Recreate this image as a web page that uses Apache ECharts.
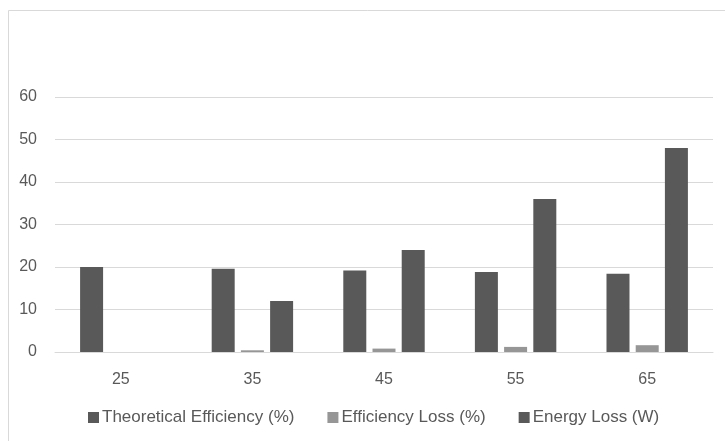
<!DOCTYPE html>
<html>
<head>
<meta charset="utf-8">
<script src="https://cdn.jsdelivr.net/npm/echarts@6/dist/echarts.min.js"></script>
<style>
html,body{margin:0;padding:0;background:#fff;}
#main{width:725px;height:441px;}
</style>
</head>
<body>
<div id="main"></div>
<script>
const categories = ['25', '35', '45', '55', '65'];
const theoreticalEfficiency = [20, 19.6, 19.2, 18.8, 18.4];
const efficiencyLoss = [0, 0.4, 0.8, 1.2, 1.6];
const energyLoss = [0, 12, 24, 36, 48];
const seriesNames = ['Theoretical Efficiency (%)', 'Efficiency Loss (%)', 'Energy Loss (W)'];

const chart = echarts.init(document.getElementById('main'), null, {renderer: 'canvas'});
const font = 'Liberation Sans, Arial, sans-serif';
chart.setOption({
  backgroundColor: '#fff',
  animation: false,
  graphic: [{
    type: 'rect', left: 6, top: 8, silent: true,
    shape: {width: 740, height: 460},
    style: {fill: 'none', stroke: '#d9d9d9', lineWidth: 1}
  }],
  grid: {left: 55, right: 12, top: 97, bottom: 89, containLabel: false},
  legend: {
    left: 83, top: 404,
    itemWidth: 11, itemHeight: 11, itemGap: 33,
    icon: 'rect',
    textStyle: {color: '#595959', fontSize: 17, fontFamily: font, padding: [0,0,0,-2]},
    data: seriesNames
  },
  xAxis: {
    type: 'category',
    data: categories,
    axisLine: {lineStyle: {color: '#d9d9d9', width: 1}},
    axisTick: {show: false},
    axisLabel: {color: '#595959', fontSize: 16, fontFamily: font, margin: 20}
  },
  yAxis: {
    type: 'value', min: 0, max: 60, interval: 10,
    axisLine: {show: false},
    axisTick: {show: false},
    splitLine: {lineStyle: {color: '#d9d9d9', width: 1}},
    axisLabel: {color: '#595959', fontSize: 16, fontFamily: font, margin: 18}
  },
  series: [
    {name: seriesNames[0], type: 'bar', data: theoreticalEfficiency, barWidth: 23, barGap: '27%', itemStyle: {color: '#595959'}},
    {name: seriesNames[1], type: 'bar', data: efficiencyLoss, barWidth: 23, barGap: '27%', itemStyle: {color: '#969696'}},
    {name: seriesNames[2], type: 'bar', data: energyLoss, barWidth: 23, barGap: '27%', itemStyle: {color: '#595959'}}
  ]
});
</script>
</body>
</html>
